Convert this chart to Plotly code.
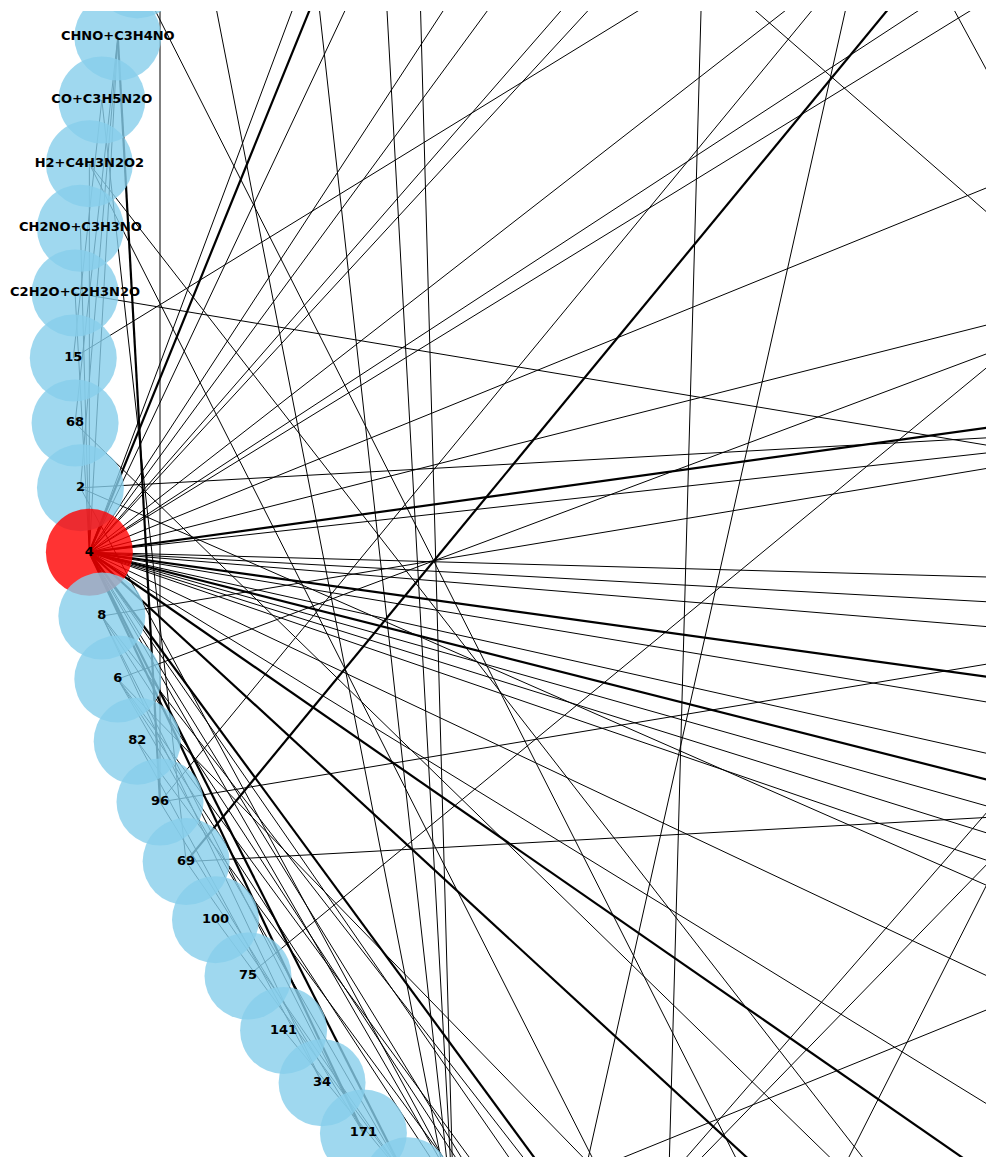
import math
import plotly.graph_objects as go

# Node order around the circle (circular layout, counter-clockwise from angle 0)
NODES = [
    "1", "3", "5", "7", "9", "10", "11", "12", "13", "14",
    "16", "17", "18", "19", "20", "21", "22", "23", "24", "25",
    "26", "27", "28", "29", "30", "31", "32", "33", "35", "36",
    "37", "38", "39", "40", "41", "42", "43", "44", "45", "46",
    "47", "48", "49", "50", "51", "52", "53", "54", "55", "56",
    "57", "58",
    "CHNO+C3H4NO", "CO+C3H5N2O", "H2+C4H3N2O2", "CH2NO+C3H3NO", "C2H2O+C2H3N2O",
    "15", "68", "2", "4", "8", "6", "82", "96", "69", "100", "75", "141", "34", "171",
    "59", "60", "61", "62", "63", "64", "65", "66", "67", "70",
    "71", "72", "73", "74", "76", "77", "78", "79", "80", "81",
    "83", "84", "85", "86", "87", "88", "89", "90", "91", "92",
    "93", "94", "95", "97", "98", "99", "101", "102", "103", "104",
    "105", "106", "107",
]
HIGHLIGHT = "4"

# Edges as pairs of positions in NODES
THIN_EDGES = [
    # node 4
    (60, 41), (60, 38), (60, 33), (60, 31), (60, 28), (60, 27), (60, 21),
    (60, 18), (60, 17), (60, 11), (60, 6), (60, 1),
    (60, 110), (60, 109), (60, 108), (60, 105), (60, 103), (60, 101),
    (60, 100), (60, 99), (60, 95), (60, 91), (60, 76), (60, 74), (60, 73),
    (60, 54), (60, 52), (60, 56), (55, 60),
    # other nodes
    (59, 0), (61, 2), (56, 109), (59, 97), (57, 20), (58, 85), (54, 84),
    (54, 77), (62, 8), (64, 25), (64, 113), (65, 108), (67, 15), (52, 59),
    (64, 50), (51, 80), (49, 72), (46, 72), (44, 72), (43, 72), (37, 76),
    (45, 100), (32, 74), (39, 93), (74, 14), (74, 12), (72, 113), (77, 20),
    (61, 77), (62, 80), (53, 65),
    # short chords along the arc
    (63, 69), (64, 70), (66, 71), (65, 71), (68, 71), (61, 70), (62, 71),
    (61, 69), (57, 53), (58, 52),
    (61, 74), (62, 73), (62, 75), (63, 74), (59, 73),
]
THICK_EDGES = [
    (60, 40), (60, 2), (60, 106), (60, 102), (60, 89), (60, 84), (60, 77),
    (60, 71), (60, 70), (65, 24), (52, 64),
]

BLUE = "rgba(135,206,235,0.8)"
RED = "rgba(255,0,0,0.8)"

# Visible window of the layout (unit-circle coordinates)
X_RANGE = [-1.0621, -0.2265]
Y_RANGE = [-0.6771, 0.2941]

n = len(NODES)
pos = [(math.cos(2 * math.pi * i / n), math.sin(2 * math.pi * i / n)) for i in range(n)]


def in_view(p):
    return X_RANGE[0] <= p[0] <= X_RANGE[1] and Y_RANGE[0] <= p[1] <= Y_RANGE[1]


def segments(edges):
    xs, ys = [], []
    for a, b in edges:
        xs += [pos[a][0], pos[b][0], None]
        ys += [pos[a][1], pos[b][1], None]
    return xs, ys


fig = go.Figure()
for edges, width in ((THIN_EDGES, 1.0), (THICK_EDGES, 2.2)):
    xs, ys = segments(edges)
    fig.add_trace(go.Scatter(
        x=xs, y=ys, mode="lines",
        line=dict(color="black", width=width),
        hoverinfo="skip",
    ))

# labels are only placed on nodes whose centre lies inside the window
labels = [name if in_view(p) else "" for name, p in zip(NODES, pos)]

fig.add_trace(go.Scatter(
    x=[p[0] for p in pos],
    y=[p[1] for p in pos],
    mode="markers+text",
    text=labels,
    hovertext=NODES,
    textposition="middle center",
    marker=dict(
        size=87,
        color=[RED if name == HIGHLIGHT else BLUE for name in NODES],
        line=dict(width=0),
    ),
    textfont=dict(family="DejaVu Sans", size=13, color="black", weight="bold"),
    hoverinfo="text",
))

fig.update_layout(
    width=986,
    height=1157,
    margin=dict(l=0, r=0, t=11, b=0, pad=0),
    showlegend=False,
    paper_bgcolor="white",
    plot_bgcolor="white",
    xaxis=dict(range=X_RANGE, visible=False),
    yaxis=dict(range=Y_RANGE, visible=False),
)

fig.write_html("out.html")
